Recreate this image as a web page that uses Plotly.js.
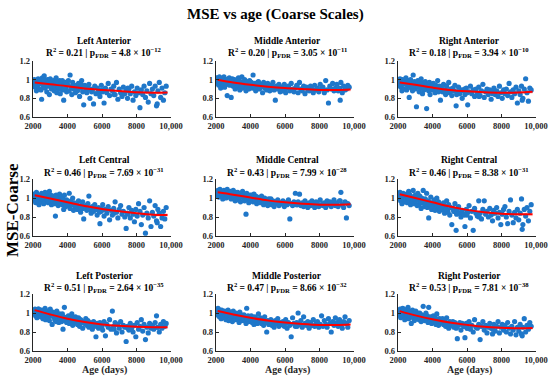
<!DOCTYPE html>
<html><head><meta charset="utf-8">
<script src="https://cdn.plot.ly/plotly-3.0.1.min.js"></script>
<style>html,body{margin:0;padding:0;background:#fff}#chart{width:550px;height:377px}</style>
</head><body><div id="chart"></div>
<script>
// ---- DATA ----
const panelNames = ["Left Anterior","Middle Anterior","Right Anterior","Left Central","Middle Central","Right Central","Left Posterior","Middle Posterior","Right Posterior"];
const r2Values = ["0.21","0.20","0.18","0.46","0.43","0.46","0.51","0.47","0.53"];
const pMantissa = ["4.8","3.05","3.94","7.69","7.99","8.38","2.64","8.66","7.81"];
const pExponent = ["−12","−11","−10","−31","−28","−31","−35","−32","−38"];
const xTickVals = [2000,4000,6000,8000,10000];
const xTickText = ["2000","4000","6000","8000","10,000"];
const yTickVals = [0.6,0.8,1,1.2];
const yTickText = ["0.6","0.8","1","1.2"];

const ages = [
2050,2080,2120,2150,2200,2230,2270,2300,2350,2390,
2420,2460,2500,2540,2580,2620,2650,2700,2730,2770,
2800,2840,2880,2920,2950,3000,3030,3070,3110,3150,
3190,3230,3260,3300,3340,3380,3420,3460,3500,3540,
3580,3620,3660,3700,3740,3780,3820,3860,3900,3950,
4000,4050,4100,4150,4200,4250,4300,4350,4400,4460,
4520,4580,4640,4700,4760,4820,4880,4940,5000,5060,
5120,5180,5240,5300,5370,5440,5510,5580,5650,5720,
5800,5880,5960,6040,6120,6200,6280,6360,6440,6520,
6600,6680,6760,6840,6920,7000,7080,7160,7240,7320,
7400,7480,7560,7640,7720,7800,7880,7960,8040,8120,
8200,8280,8360,8440,8520,8600,8680,8760,8840,8920,
9000,9080,9160,9240,9320,9400,9480,9560,9640,9720,
2180,2610,3020,3480,3930,4420,4900,5400,6000,6700,
2330,2870,3330,3810,4280,4760,5250,5850,7500,9200];

const mseLeftAnterior = [
.95,1.0,.92,.97,.88,.99,.94,1.01,.90,.96,
.98,.89,.79,1.02,.93,.97,1.04,.91,.95,.99,
.87,1.0,.93,.97,.84,1.01,.96,.90,.98,.93,
.99,.88,.95,.91,1.02,.86,.94,.97,.90,.99,
.85,.96,.92,.99,.89,.78,.94,.97,.91,.87,
.95,.99,.88,1.05,.92,.84,.97,.90,.94,.86,
.93,.88,.96,.82,.91,.99,.87,.73,.94,.89,
.86,.92,.95,.80,.90,.88,.74,.93,.85,.91,
.89,.82,.94,.87,.75,.91,.86,.96,.83,.90,
.88,.93,.84,.97,.79,.90,.86,.82,.92,.85,
.88,.80,.90,.85,.93,.78,.87,.83,.91,.86,
.70,.89,.84,.93,.81,.88,.76,.96,.85,.90,
.83,.93,.72,.88,.97,.81,.91,.78,.86,.93,
.93,1.0,.96,.92,.95,.90,.93,.87,.89,.84,
.98,.94,.97,.90,.93,.95,.90,.86,.91,.74];
const mseMiddleAnterior = [
1.02,.97,1.0,.94,1.03,.98,.91,.99,1.01,.95,
.97,1.03,.92,.99,.96,1.0,.83,.95,.98,1.02,
.94,.99,.81,.97,1.01,.93,.96,1.0,.90,.97,
.95,.99,.92,1.02,.96,.89,.98,.94,1.03,.91,
.97,.93,1.0,.95,.88,.98,.92,.96,.90,.99,
.94,.97,.91,1.05,.93,.96,.88,.95,.92,.98,
.90,.95,.93,.86,.97,.91,.94,.89,.96,.92,
.88,.94,.91,.97,.89,.78,.93,.90,.95,.87,
.92,.89,.95,.86,.91,.93,.88,.96,.90,.87,
.91,.94,.86,.97,.90,.88,.93,.85,.92,.89,
.88,.93,.90,.86,.94,.89,.91,.87,.95,.90,
.92,.86,.99,.89,.75,.93,.90,.96,.88,.91,
.95,.88,.91,.97,.86,.93,.89,.90,.94,.92,
.98,1.0,.96,.93,.95,.97,.91,.92,.90,.93,
1.0,.96,.98,.94,.91,.93,.90,.88,.89,.78];
const mseRightAnterior = [
.99,.94,1.01,.92,.97,.88,1.0,.95,.90,.98,
.96,1.02,.89,.94,.99,.93,.81,.97,1.0,.91,
.95,.88,1.05,.93,.98,.90,.96,.71,.92,.99,
.94,.87,.97,.91,1.01,.93,.85,.96,.89,.93,
.98,.90,.69,.95,.92,.88,.97,.84,.93,.91,
.89,.96,.92,.86,.94,.90,.99,.87,.93,.78,
.91,.87,.95,.89,.84,.93,.88,.97,.86,.90,
.83,.91,.88,.94,.72,.87,.92,.85,.89,.80,
.88,.84,.91,.73,.87,.93,.85,.89,.82,.90,
.86,.92,.83,.88,.95,.81,.87,.90,.84,.89,
.79,.87,.91,.84,.88,.82,.93,.86,.80,.89,
.85,.90,.83,.96,.87,.81,.89,.85,.92,.75,
.88,.84,.93,.80,.90,1.01,.86,.77,.91,.89,
.95,.98,.93,.90,.92,.89,.87,.84,.86,.82,
.97,.93,.95,.89,.91,.86,.88,.90,.85,.78];
const mseLeftCentral = [
1.04,.98,1.02,.95,1.06,1.0,.97,1.03,.93,1.01,
1.02,.96,1.05,.99,1.03,.94,1.0,1.06,.97,1.02,
.99,1.04,.95,1.01,1.07,.97,1.03,.93,1.0,.96,
1.02,.94,.99,.81,1.03,.96,1.0,.92,.98,1.04,
.95,1.01,.97,.93,.99,.88,1.03,.95,.91,.98,
.96,.92,1.05,.89,.97,.93,1.0,.87,.95,.91,
.94,.88,.97,.91,.85,.93,.96,.78,.90,.92,
.87,.94,1.02,.89,.84,.91,.86,.93,.88,.82,
.90,.73,.86,.93,.81,.88,.84,.91,.77,.87,
.82,.89,.96,.85,.79,.88,.92,.83,.86,.80,
.68,.84,.90,.79,.87,.83,.75,.88,.81,.94,
.86,.72,.82,.90,.63,.84,.79,.97,.70,.85,
.81,.92,.76,.88,.84,.70,.79,.86,.78,.90,
1.0,1.03,.98,.96,.94,.92,.89,.87,.88,.84,
1.02,.97,1.01,.95,.93,.90,.88,.85,.83,.74];
const mseMiddleCentral = [
1.06,1.03,1.08,1.01,1.05,1.09,1.02,1.07,1.04,.99,
1.05,1.08,1.02,1.06,1.0,1.04,1.09,1.03,1.06,1.01,
1.04,1.07,.99,1.05,1.02,1.08,1.01,1.04,.97,1.06,
1.03,1.0,1.06,.98,1.04,1.01,.96,1.05,1.02,1.07,
1.0,1.04,.97,1.02,.83,1.05,.99,1.01,.95,1.03,
.98,1.03,1.0,.96,1.04,.99,1.02,.94,1.01,.97,
1.0,.95,1.02,.97,.93,1.0,.96,.98,.92,.99,
.95,.99,.93,.97,.91,.96,.94,.98,.92,.95,
.94,.97,.91,.95,.93,.98,.78,.94,.92,.96,
1.05,.93,.96,1.04,.92,.95,.91,.97,.94,.90,
.95,.92,.97,.93,.90,.96,.94,.91,.98,.93,
.92,.95,.90,.97,.93,.96,.91,.94,.98,.92,
.95,.91,.97,1.06,.93,.90,.96,.79,.94,.92,
1.07,1.05,1.03,1.02,1.0,.99,.97,.96,.95,.93,
1.05,1.06,1.01,1.03,.98,.97,.96,.94,.95,.97];
const mseRightCentral = [
1.04,1.0,1.06,.97,1.03,.94,1.01,1.05,.99,.96,
1.02,.98,1.04,.95,1.0,1.07,.97,1.03,.93,.99,
1.01,.96,1.08,.99,.94,1.03,.97,1.0,.92,1.05,
.98,.93,1.02,.96,.89,1.0,.95,1.08,.97,.91,
.99,.94,1.05,.90,.97,.79,.96,.93,1.01,.88,
.95,.91,.98,.87,.94,1.0,.90,.96,.86,.93,
.92,.88,.95,.84,.91,.97,.87,.93,.82,.90,
.72,.89,.86,.94,.66,.88,.91,.84,.80,.87,
.83,.70,.88,.85,.92,.79,.86,.66,.89,.84,
.81,.97,.84,.78,.88,.97,.83,.86,.80,.89,
.82,.76,.87,.84,.90,.79,.85,.72,.83,.88,
.91,.80,.73,.86,.98,.82,.74,.85,.79,.88,
.77,.84,.99,.72,.88,.81,.90,.76,.86,.93,
1.02,1.0,.97,.95,.91,.89,.85,.83,.82,.80,
1.03,.99,.96,.94,.92,.88,.86,.82,.84,.67];
const mseLeftPosterior = [
1.03,.99,1.04,.97,1.02,.95,1.01,1.04,.98,1.0,
1.02,.96,1.03,.99,.94,1.01,.97,1.05,.93,1.0,
.98,1.02,.95,1.0,.92,1.04,.97,.99,.88,1.01,
.96,1.0,.93,.98,.91,1.02,.95,.97,.90,.99,
.94,.97,.91,.99,.83,.96,1.06,.92,.95,.90,
.93,.97,.89,.95,.91,.99,.87,.94,.90,.96,
.92,.88,.95,.86,.93,.90,.84,.91,.89,.94,
.87,.92,.85,.90,.88,.83,.91,.86,.75,.89,
.84,.90,.87,.82,.91,.76,.88,.85,.93,.83,
1.02,.86,.90,.79,.88,.84,.91,.80,.87,.85,
.70,.86,.82,.89,.84,.80,.87,.75,.90,.83,
.86,.93,.81,.88,.72,.85,.79,.89,.84,.87,
.83,.90,.97,.85,.80,.88,.84,.91,.86,.89,
1.01,1.02,1.0,.97,.95,.93,.90,.87,.86,.83,
1.04,.99,.98,.94,.96,.91,.89,.86,.84,.85];
const mseMiddlePosterior = [
1.02,.98,1.05,1.0,.96,1.03,.99,.94,1.01,.97,
1.0,.95,1.02,.98,.93,1.01,.97,1.03,.92,.99,
.97,1.01,.94,.99,.91,1.02,.96,.98,.93,1.0,
.96,.99,.93,.97,.90,1.01,.95,.98,.92,.96,
.95,.98,.92,.96,.89,1.05,.94,.97,.91,.95,
.93,.97,.90,.95,.88,.96,.92,.94,.89,.99,
.91,.95,.89,.93,.87,.96,.90,.80,.92,.88,
.90,.93,.87,.91,.85,.92,.89,.94,.86,.90,
.88,.91,.86,.93,.84,.90,.87,.75,.95,.89,
.86,.90,1.0,.88,.92,.85,.96,.89,.87,.91,
.84,.90,.87,.93,.86,.89,.91,.85,.88,.97,
.86,.92,.88,.85,.94,.89,.80,.91,.87,.95,
.90,.86,.93,.88,.84,.91,.96,.89,.85,.92,
1.0,.99,.97,.95,.94,.93,.90,.88,.89,.86,
1.03,.97,.96,.94,.93,.92,.89,.88,.87,.90];
const mseRightPosterior = [
1.01,.98,1.04,.95,1.02,.99,1.05,.97,1.0,.93,
1.03,.96,1.01,.98,1.06,.94,1.0,.97,1.02,.89,
.99,1.03,.95,1.01,.92,.98,1.02,.96,.94,1.0,
.97,.93,1.0,.95,.91,.98,.94,1.07,.96,.92,
.95,1.0,.93,.97,.90,1.06,.94,.91,.96,.89,
.93,.97,.90,.95,.88,.99,.92,.87,.94,.91,
.90,.94,.88,.92,.86,.95,.89,.84,.91,.87,
.88,.91,.85,.90,.84,.73,.87,.90,.82,.89,
.86,.74,.89,.84,.91,.83,.87,.80,.93,.85,
.84,.88,.72,.86,.91,.82,.87,.79,.85,.89,
.84,.78,.88,.81,.86,.91,.79,.85,.88,.82,
.87,.80,.90,.84,.78,.86,.82,.91,.77,.85,
.81,.88,.78,.85,.94,.80,.87,.83,.90,.86,
1.0,1.02,.98,.96,.94,.91,.88,.85,.84,.86,
1.04,.99,.97,.95,.92,.90,.87,.86,.83,.76];

const fitAge = [2100,3000,4000,5000,6000,7000,8000,9000,9800];
const fitLeftAnterior   = [.970,.950,.930,.905,.890,.878,.865,.860,.862];
const fitMiddleAnterior = [1.00,.970,.945,.925,.910,.900,.890,.890,.895];
const fitRightAnterior  = [.970,.945,.915,.890,.875,.865,.860,.863,.870];
const fitLeftCentral    = [1.03,.995,.955,.915,.885,.860,.840,.825,.820];
const fitMiddleCentral  = [1.06,1.035,1.005,.975,.955,.940,.930,.930,.935];
const fitRightCentral   = [1.04,1.00,.955,.910,.875,.850,.835,.828,.830];
const fitLeftPosterior  = [1.03,.985,.940,.905,.880,.865,.855,.850,.850];
const fitMiddlePosterior= [1.02,.985,.950,.920,.900,.885,.875,.875,.880];
const fitRightPosterior = [1.02,.975,.935,.900,.875,.855,.845,.840,.842];
const ciHalfWidth = [.015,.010,.008,.008,.009,.010,.012,.016,.022];

// ---- BUILD ----
const mseSets = [mseLeftAnterior,mseMiddleAnterior,mseRightAnterior,mseLeftCentral,mseMiddleCentral,mseRightCentral,mseLeftPosterior,mseMiddlePosterior,mseRightPosterior];
const fitSets = [fitLeftAnterior,fitMiddleAnterior,fitRightAnterior,fitLeftCentral,fitMiddleCentral,fitRightCentral,fitLeftPosterior,fitMiddlePosterior,fitRightPosterior];

const W=550,H=377;
const colPx=[[33,171],[216,354],[398,536]];
const rowPx=[[61,117],[179,236],[294,351]];
const titlePx=[[41,52],[160,172],[276,287]];
const serif='Liberation Serif';
const tickFont={family:serif,size:8.5,color:'#262626'};
const bold = s => '<b>'+s+'</b>';

const traces=[]; const layout={width:W,height:H,margin:{l:0,r:0,t:0,b:0},showlegend:false,
  font:{family:serif},paper_bgcolor:'#fff',plot_bgcolor:'#fff',annotations:[]};

for(let i=0;i<9;i++){
  const r=Math.floor(i/3), c=i%3, n=i+1;
  const xa='x'+(n===1?'':n), ya='y'+(n===1?'':n);
  const upper=fitSets[i].map((v,k)=>v+ciHalfWidth[k]);
  const lower=fitSets[i].map((v,k)=>v-ciHalfWidth[k]);
  traces.push({x:fitAge,y:upper,xaxis:xa,yaxis:ya,mode:'lines',line:{width:0,shape:'spline',color:'rgba(255,0,0,0)'},hoverinfo:'skip'});
  traces.push({x:fitAge,y:lower,xaxis:xa,yaxis:ya,mode:'lines',fill:'tonexty',fillcolor:'rgba(255,80,80,0.22)',line:{width:0,shape:'spline',color:'rgba(255,0,0,0)'},hoverinfo:'skip'});
  traces.push({x:ages,y:mseSets[i],xaxis:xa,yaxis:ya,mode:'markers',type:'scatter',
    marker:{color:'#1f77c9',size:5.2,line:{width:0}}});
  traces.push({x:fitAge,y:fitSets[i],xaxis:xa,yaxis:ya,mode:'lines',line:{color:'#ff0000',width:2,shape:'spline'}});
  const xk='xaxis'+(n===1?'':n), yk='yaxis'+(n===1?'':n);
  layout[xk]={domain:[colPx[c][0]/W,colPx[c][1]/W],range:[2000,10000],anchor:ya,
    tickvals:xTickVals,ticktext:xTickText.map(bold),ticks:'inside',ticklen:3,tickcolor:'#262626',
    showline:true,linecolor:'#262626',linewidth:1.3,showgrid:false,zeroline:false,tickfont:tickFont};
  layout[yk]={domain:[1-rowPx[r][1]/H,1-rowPx[r][0]/H],range:[0.6,1.2],anchor:xa,
    tickvals:yTickVals,ticktext:yTickText.map(bold),ticks:'inside',ticklen:3,tickcolor:'#262626',
    showline:true,linecolor:'#262626',linewidth:1.3,showgrid:false,zeroline:false,tickfont:tickFont};
  const cx=(colPx[c][0]+colPx[c][1])/2/W + 0.004;
  layout.annotations.push({xref:'paper',yref:'paper',x:cx,y:1-titlePx[r][0]/H,yanchor:'middle',xanchor:'center',showarrow:false,
    text:bold(panelNames[i]),font:{family:serif,size:9.5,color:'#000'}});
  layout.annotations.push({xref:'paper',yref:'paper',x:cx,y:1-titlePx[r][1]/H,yanchor:'middle',xanchor:'center',showarrow:false,
    text:bold('R<sup>2</sup> = '+r2Values[i]+' | p<sub>FDR</sub> = '+pMantissa[i]+' × 10<sup>'+pExponent[i]+'</sup>'),
    font:{family:serif,size:9.5,color:'#000'}});
  if(r===2){
    layout.annotations.push({xref:'paper',yref:'paper',x:cx,y:1-369.5/H,yanchor:'middle',xanchor:'center',showarrow:false,
      text:bold('Age (days)'),font:{family:serif,size:10,color:'#262626'}});
  }
}
layout.annotations.push({xref:'paper',yref:'paper',x:275/W,y:1-14/H,xanchor:'center',yanchor:'middle',showarrow:false,
  text:bold('MSE vs age (Coarse Scales)'),font:{family:serif,size:15,color:'#000'}});
layout.annotations.push({xref:'paper',yref:'paper',x:12/W,y:1-210/H,xanchor:'center',yanchor:'middle',showarrow:false,textangle:-90,
  text:bold('MSE-Coarse'),font:{family:serif,size:17,color:'#000'}});

Plotly.newPlot('chart',traces,layout,{displayModeBar:false,staticPlot:true});
</script></body></html>
